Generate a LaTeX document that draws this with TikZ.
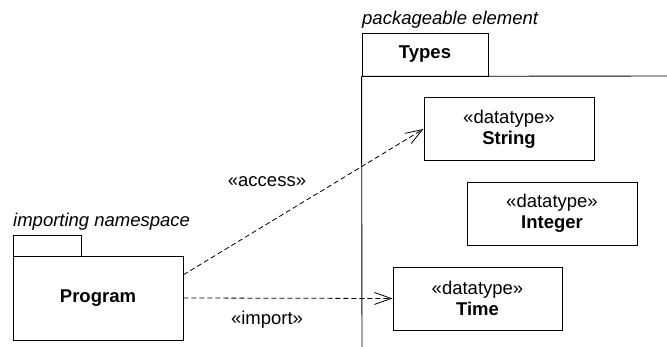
\documentclass[tikz,border=0pt]{standalone}
\usepackage{fontspec}
\setmainfont{Liberation Sans}
\usetikzlibrary{arrows.meta,calc}
\tikzset{
  box/.style={draw, line width=0.9pt, rectangle, inner sep=0pt, align=center,
    font=\fontsize{18.5}{21}\selectfont},
  dep/.style={draw, dashed, dash pattern=on 5pt off 3pt, line width=0.8pt,
    -{Straight Barb[length=17pt,width=12pt,line width=0.8pt]}},
  lbl/.style={font=\fontsize{18.5}{22}\selectfont, inner sep=0pt},
  ital/.style={font=\fontsize{18.5}{22}\selectfont\itshape, inner sep=0pt}
}
\begin{document}
\begin{tikzpicture}[x=1pt,y=-1pt]
\useasboundingbox (0,0) rectangle (667,347);
% Program package
\node[box, minimum width=68pt, minimum height=21pt] (progtab) at (47,245.5) {};
\node[box, minimum width=170pt, minimum height=84pt, font=\fontsize{18.5}{22}\selectfont\bfseries] (prog) at (98,298) {Program};
\node[ital, anchor=base west] (progname) at (13,227) {importing namespace};
% Types package
\node[box, minimum width=126pt, minimum height=43pt, font=\fontsize{18.5}{22}\selectfont\bfseries] (typestab) at (425,54.5) {Types};
\coordinate (tbl) at (362,347);
\coordinate (tbr) at (667,76);
\draw[line width=0.9pt] (typestab.south west) -- (tbl);
\draw[line width=0.9pt] (typestab.south west) -- (tbr);
\node[ital, anchor=base west] (typesname) at (362,25) {packageable element};
% datatypes
\node[box, minimum width=170pt, minimum height=63pt] (string) at (509,129) {«datatype»\\\textbf{String}};
\node[box, minimum width=170pt, minimum height=63pt] (integer) at (552,213.5) {«datatype»\\\textbf{Integer}};
\node[box, minimum width=169pt, minimum height=63pt] (time) at (477.5,298.5) {«datatype»\\\textbf{Time}};
% dependencies
\draw[dep] ($(prog.north east)!0.226!(prog.south east)$) -- (string.west);
\draw[dep] (prog.east) -- (time.west);
\node[lbl] (acc) at (267,182) {«access»};
\node[lbl] (imp) at (267,320) {«import»};
\end{tikzpicture}
\end{document}
